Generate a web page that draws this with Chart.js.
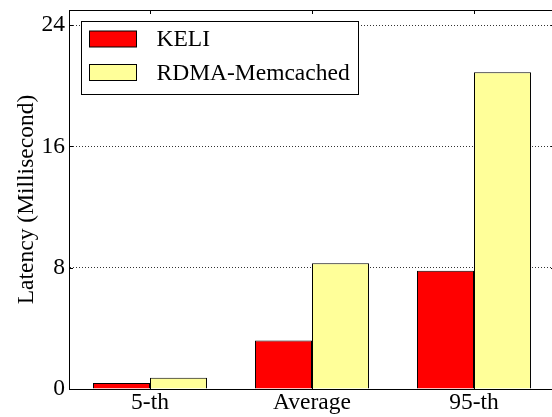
<!DOCTYPE html>
<html>
<head>
<meta charset="utf-8">
<script src="https://cdn.jsdelivr.net/npm/chart.js@4/dist/chart.umd.min.js"></script>
<style>
  html, body { margin: 0; padding: 0; background: #fff; overflow: hidden; width: 552px; height: 417px; }
  #wrap { position: absolute; left: 0; top: 0; width: 560px; height: 417px; }
  canvas { display: block; }
</style>
</head>
<body>
<div id="wrap"><canvas id="c" width="560" height="417"></canvas></div>
<script>
// Latency percentiles for the two systems
const categories = ['5-th', 'Average', '95-th'];
const keliLatency = [0.4, 3.2, 7.8];
const rdmaLatency = [0.75, 8.3, 20.9];
const yTicks = [0, 8, 16, 24];
const seriesNames = ['KELI', 'RDMA-Memcached'];

const FONT = "'Liberation Serif', 'Times New Roman', serif";
const FSIZE = 23.5;

// Axis frame with inward ticks on the top and left, like a boxed plot
const framePlugin = {
  id: 'frame',
  afterDatasetsDraw(chart) {
    const { ctx, chartArea: a, scales } = chart;
    ctx.save();
    ctx.strokeStyle = '#000';
    ctx.lineWidth = 1;
    ctx.beginPath();
    ctx.moveTo(a.left, a.top + 0.5);
    ctx.lineTo(a.right, a.top + 0.5);
    ctx.moveTo(a.right - 0.5, a.top);
    ctx.lineTo(a.right - 0.5, a.bottom);
    // category ticks
    categories.forEach((c, i) => {
      const x = Math.round(scales.x.getPixelForValue(i)) + 0.5;
      ctx.moveTo(x, a.top);
      ctx.lineTo(x, a.top + 4);
      ctx.moveTo(x, a.bottom);
      ctx.lineTo(x, a.bottom - 4);
    });
    // value ticks
    yTicks.forEach(v => {
      const y = Math.round(scales.y.getPixelForValue(v)) + 0.5;
      ctx.moveTo(a.left, y);
      ctx.lineTo(a.left + 4, y);
      ctx.moveTo(a.right, y);
      ctx.lineTo(a.right - 4, y);
    });
    ctx.stroke();
    ctx.restore();
  },
  afterDraw(chart) {
    // boxed legend in the upper left of the plot
    const { ctx, chartArea: a } = chart;
    const bx = a.left + 12.5, by = a.top + 11.5, bw = 277, bh = 73;
    ctx.save();
    ctx.fillStyle = '#fff';
    ctx.fillRect(bx, by, bw, bh);
    ctx.strokeStyle = '#000';
    ctx.lineWidth = 1;
    ctx.strokeRect(bx, by, bw, bh);
    chart.data.datasets.forEach((ds, i) => {
      const px = bx + 8, py = by + 9.5 + i * 33.5;
      ctx.fillStyle = ds.backgroundColor;
      ctx.fillRect(px, py, 47, 16);
      ctx.strokeStyle = '#000';
      ctx.strokeRect(px, py, 47, 16);
      ctx.fillStyle = '#000';
      ctx.font = FSIZE + 'px ' + FONT;
      ctx.textBaseline = 'middle';
      ctx.textAlign = 'left';
      ctx.fillText(ds.label, bx + 75, py + 9);
    });
    ctx.restore();
  }
};

new Chart(document.getElementById('c'), {
  type: 'bar',
  data: {
    labels: categories,
    datasets: [
      { label: seriesNames[0], data: keliLatency, backgroundColor: '#ff0000', borderColor: '#000', borderWidth: 1 },
      { label: seriesNames[1], data: rdmaLatency, backgroundColor: '#ffff99', borderColor: '#000', borderWidth: 1 }
    ]
  },
  options: {
    responsive: false,
    animation: false,
    devicePixelRatio: 1,
    layout: { padding: { top: 10, right: 5, left: 0, bottom: 0 } },
    datasets: { bar: { categoryPercentage: 0.704, barPercentage: 1.0 } },
    plugins: { legend: { display: false }, tooltip: { enabled: false } },
    scales: {
      x: {
        grid: { display: false, drawTicks: false },
        border: { display: true, color: '#000', width: 1 },
        ticks: { color: '#000', font: { family: FONT, size: FSIZE }, padding: 0, maxRotation: 0 },
        afterFit(scale) { scale.height = 28; scale.paddingLeft = 0; scale.paddingRight = 0; }
      },
      y: {
        min: 0,
        max: 25,
        afterBuildTicks(scale) { scale.ticks = yTicks.map(v => ({ value: v })); },
        grid: {
          drawTicks: false,
          color: ctx => (ctx.tick && ctx.tick.value === 0) ? 'rgba(0,0,0,0)' : '#333',
          lineWidth: 1
        },
        border: { display: true, color: '#000', width: 1, dash: [1, 2] },
        ticks: { color: '#000', font: { family: FONT, size: FSIZE }, padding: 4 },
        title: {
          display: true,
          text: 'Latency (Millisecond)',
          color: '#000',
          font: { family: FONT, size: FSIZE },
          padding: { top: 13, bottom: 0 }
        },
        afterFit(scale) { scale.width = 69; scale.paddingTop = 0; scale.paddingBottom = 0; }
      }
    }
  },
  plugins: [framePlugin]
});
</script>
</body>
</html>
